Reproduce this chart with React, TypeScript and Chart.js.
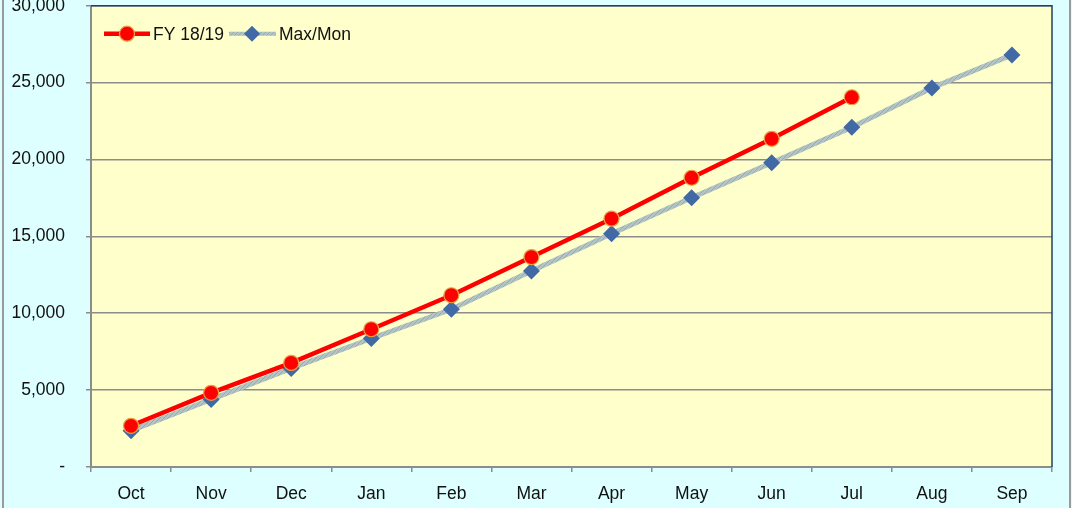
import React, { useEffect, useRef } from "react";
import { Chart, registerables } from "chart.js";

Chart.register(...registerables);

const months = ["Oct", "Nov", "Dec", "Jan", "Feb", "Mar", "Apr", "May", "Jun", "Jul", "Aug", "Sep"];
const fy1819 = [2680, 4825, 6770, 8960, 11170, 13655, 16150, 18810, 21345, 24045];
const maxMon = [2355, 4395, 6410, 8355, 10260, 12745, 15175, 17515, 19785, 22095, 24655, 26800];
const seriesNames = ["FY 18/19", "Max/Mon"];
const yTicks = { min: 0, max: 30000, step: 5000 };

const FONT = "'Liberation Sans Narrow', 'Arial Narrow', 'Liberation Sans', Arial, sans-serif";
const FS = 17.5;
const SHIFT = 3;
const W = 1072;
const H = 508 + SHIFT;

function makePattern(): CanvasPattern | string {
  const c = document.createElement("canvas");
  c.width = 4;
  c.height = 4;
  const g = c.getContext("2d");
  if (!g) return "#A9BDBD";
  g.fillStyle = "#B2C4C4";
  g.fillRect(0, 0, 4, 4);
  g.fillStyle = "#96ABAB";
  g.fillRect(0, 0, 1, 1);
  g.fillRect(2, 2, 1, 1);
  g.fillRect(1, 3, 1, 1);
  g.fillRect(3, 1, 1, 1);
  const p = g.createPattern(c, "repeat");
  return p || "#A9BDBD";
}

export default function App() {
  const ref = useRef<HTMLCanvasElement | null>(null);

  useEffect(() => {
    if (!ref.current) return;
    const pattern = makePattern();

    const bgPlugin = {
      id: "bg",
      beforeDraw(chart: any) {
        const { ctx, chartArea: a, width, height } = chart;
        ctx.save();
        ctx.fillStyle = "#DDFFFF";
        ctx.fillRect(0, 0, width, height);
        ctx.fillStyle = "#FFFFCC";
        ctx.fillRect(a.left, a.top, a.right - a.left, a.bottom - a.top);
        ctx.restore();
      },
      afterDraw(chart: any) {
        const { ctx, chartArea: a, width, height } = chart;
        ctx.save();
        ctx.strokeStyle = "#243F66";
        ctx.lineWidth = 1.5;
        ctx.beginPath();
        ctx.moveTo(a.left, a.top);
        ctx.lineTo(a.right, a.top);
        ctx.lineTo(a.right, a.bottom);
        ctx.stroke();
        ctx.strokeStyle = "#9A9A9A";
        ctx.lineWidth = 2;
        ctx.beginPath();
        ctx.moveTo(3, 0);
        ctx.lineTo(3, height);
        ctx.moveTo(width - 2, 0);
        ctx.lineTo(width - 2, height);
        ctx.stroke();
        const ly = a.top + 28;
        ctx.font = `${FS}px ${FONT}`;
        ctx.textBaseline = "middle";
        ctx.textAlign = "left";
        ctx.strokeStyle = "#FF0000";
        ctx.lineWidth = 4.5;
        ctx.beginPath();
        ctx.moveTo(104, ly);
        ctx.lineTo(150, ly);
        ctx.stroke();
        ctx.beginPath();
        ctx.arc(127, ly, 7.5, 0, Math.PI * 2);
        ctx.fillStyle = "#FF0000";
        ctx.fill();
        ctx.strokeStyle = "#E8A040";
        ctx.lineWidth = 1.2;
        ctx.stroke();
        ctx.fillStyle = "#111";
        ctx.fillText(seriesNames[0], 153, ly + 1);
        ctx.strokeStyle = pattern as any;
        ctx.lineWidth = 4;
        ctx.beginPath();
        ctx.moveTo(229, ly);
        ctx.lineTo(276, ly);
        ctx.stroke();
        ctx.fillStyle = "#4169A6";
        ctx.beginPath();
        ctx.moveTo(252, ly - 8);
        ctx.lineTo(260, ly);
        ctx.lineTo(252, ly + 8);
        ctx.lineTo(244, ly);
        ctx.closePath();
        ctx.fill();
        ctx.fillStyle = "#111";
        ctx.fillText(seriesNames[1], 279, ly + 1);
        ctx.restore();
      },
    };

    const chart = new Chart(ref.current, {
      type: "line",
      data: {
        labels: months,
        datasets: [
          {
            label: seriesNames[1],
            data: maxMon,
            borderColor: pattern as any,
            borderWidth: 5,
            pointStyle: "rectRot",
            pointRadius: 8.5,
            pointBackgroundColor: "#4169A6",
            pointBorderColor: "#4169A6",
            pointBorderWidth: 0,
            tension: 0,
            order: 2,
          },
          {
            label: seriesNames[0],
            data: fy1819,
            borderColor: "#FF0000",
            borderWidth: 4.5,
            pointStyle: "circle",
            pointRadius: 7.5,
            pointBackgroundColor: "#FF0000",
            pointBorderColor: "#E8A040",
            pointBorderWidth: 1.2,
            tension: 0,
            order: 1,
          },
        ],
      },
      options: {
        animation: false,
        responsive: false,
        maintainAspectRatio: false,
        layout: { padding: { left: 0, right: 20, top: 2.5, bottom: 0 } },
        plugins: {
          legend: { display: false },
          tooltip: { enabled: false },
          title: { display: false },
        },
        scales: {
          x: {
            type: "category",
            offset: true,
            grid: {
              offset: true,
              drawOnChartArea: false,
              drawTicks: true,
              tickLength: 5,
              color: "#8C8C8C",
              lineWidth: 1.5,
            },
            border: { display: true, color: "#8C8C8C", width: 2 },
            ticks: {
              color: "#111",
              font: { family: FONT, size: FS },
              padding: 12,
              maxRotation: 0,
              autoSkip: false,
            },
            afterFit(scale: any) {
              scale.height = 41;
              scale.paddingLeft = 0;
              scale.paddingRight = 0;
            },
          },
          y: {
            min: yTicks.min,
            max: yTicks.max,
            ticks: {
              stepSize: yTicks.step,
              color: "#111",
              font: { family: FONT, size: FS },
              padding: 21,
              callback: (v: any) => (Number(v) === 0 ? "-" : Number(v).toLocaleString("en-US")),
            },
            grid: {
              color: "#8C8C8C",
              lineWidth: 1.5,
              tickLength: 5,
              drawTicks: true,
            },
            border: { display: true, color: "#8C8C8C", width: 2 },
            afterFit(scale: any) {
              scale.width = 91;
              scale.paddingTop = 0;
              scale.paddingBottom = 0;
            },
          },
        },
      },
      plugins: [bgPlugin],
    });
    return () => chart.destroy();
  }, []);

  return (
    <div style={{ position: "absolute", left: 0, top: -SHIFT, width: W, height: H, overflow: "hidden" }}>
      <canvas ref={ref} width={W} height={H} style={{ display: "block", width: W, height: H }} />
    </div>
  );
}
